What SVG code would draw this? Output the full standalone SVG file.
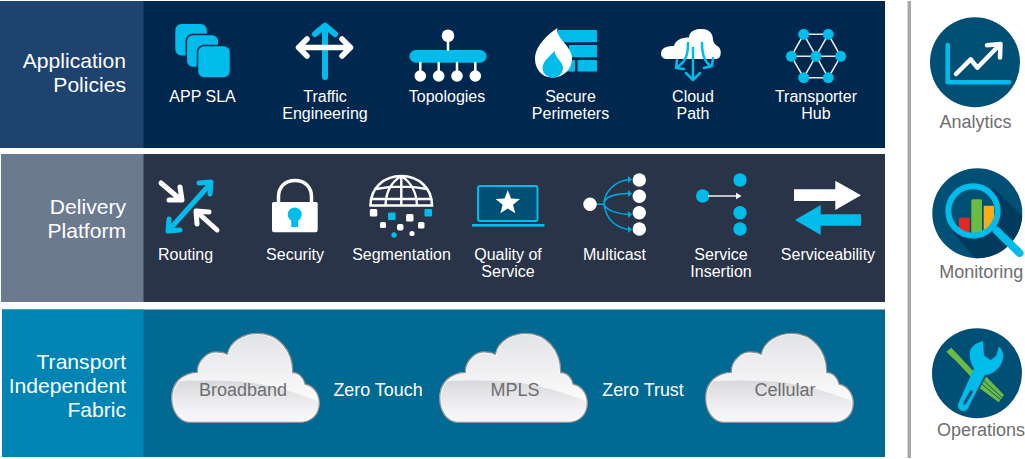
<svg xmlns="http://www.w3.org/2000/svg" width="1025" height="459" viewBox="0 0 1025 459">
<style>
text{font-family:"Liberation Sans",Arial,sans-serif}
.l{font-size:16px;fill:#fff;text-anchor:middle}
.h{font-size:21.1px;fill:#fff;text-anchor:end}
.c{font-size:18px;fill:#6d6e71;text-anchor:middle}
.z{font-size:17.9px;fill:#fff;text-anchor:middle}
.r{font-size:18px;fill:#6d6e71;text-anchor:middle}
.b{fill:#00bceb}.w{fill:#fff}
.sb{stroke:#00bceb;fill:none;stroke-linecap:round;stroke-linejoin:round}
.sw{stroke:#fff;fill:none;stroke-linecap:round;stroke-linejoin:round}
</style>
<defs>
<linearGradient id="ct" gradientUnits="userSpaceOnUse" x1="0" x2="0" y1="333" y2="395"><stop offset="0" stop-color="#e2e3e5"/><stop offset="1" stop-color="#f9f9fa"/></linearGradient>
<linearGradient id="cb" gradientUnits="userSpaceOnUse" x1="0" x2="0" y1="380" y2="416"><stop offset="0" stop-color="#d7d8db"/><stop offset="0.6" stop-color="#ececee"/><stop offset="1" stop-color="#f6f6f8"/></linearGradient>
<clipPath id="cc"><path d="M190 422.300C178 422.300 171.700 410 171.700 398C171.700 382 183 372.800 197.300 372.300C197 360 208 351 218 352C222 352 225 353 227.300 354.300C230 341 244 333.300 258 333.300C278 333.300 293 350 292.700 372.500C299 372.500 304 378 305 384C314 386 319.300 394 319.300 403C319.300 415 311 422.300 300 422.300Z"/></clipPath>
<clipPath id="m1"><circle cx="977.300" cy="213.300" r="45"/></clipPath>
<clipPath id="m2"><circle cx="973" cy="211" r="24"/></clipPath>
<g id="cloud">
<path d="M190 422.300C178 422.300 171.700 410 171.700 398C171.700 382 183 372.800 197.300 372.300C197 360 208 351 218 352C222 352 225 353 227.300 354.300C230 341 244 333.300 258 333.300C278 333.300 293 350 292.700 372.500C299 372.500 304 378 305 384C314 386 319.300 394 319.300 403C319.300 415 311 422.300 300 422.300Z" fill="url(#ct)"/>
<path d="M165 382C190 380 215 380 240 381.500C270 384 295 392 325 404V425H165Z" fill="url(#cb)" clip-path="url(#cc)"/>
<path d="M190 422.300C178 422.300 171.700 410 171.700 398C171.700 382 183 372.800 197.300 372.300C197 360 208 351 218 352C222 352 225 353 227.300 354.300C230 341 244 333.300 258 333.300C278 333.300 293 350 292.700 372.500C299 372.500 304 378 305 384C314 386 319.300 394 319.300 403C319.300 415 311 422.300 300 422.300Z" fill="none" stroke="#fff" stroke-width="3" stroke-opacity="0.8" clip-path="url(#cc)"/>
<path d="M190 422.300C178 422.300 171.700 410 171.700 398C171.700 382 183 372.800 197.300 372.300C197 360 208 351 218 352C222 352 225 353 227.300 354.300C230 341 244 333.300 258 333.300C278 333.300 293 350 292.700 372.500C299 372.500 304 378 305 384C314 386 319.300 394 319.300 403C319.300 415 311 422.300 300 422.300Z" fill="none" stroke="#8e9094" stroke-width="1.300"/>
</g>
</defs>

<g id="band-application">
<rect x="0" y="1" width="885" height="147" fill="#00274d"/>
<rect x="0" y="1" width="143.500" height="147" fill="#1f436f"/>
<text class="h" x="126" y="68">Application</text>
<text class="h" x="126" y="92">Policies</text>
</g>
<g id="band-delivery">
<rect x="1" y="154" width="884" height="148" fill="#293448"/>
<rect x="1" y="154" width="142.500" height="148" fill="#6c7a8f"/>
<text class="h" x="126" y="214">Delivery</text>
<text class="h" x="126" y="238">Platform</text>
</g>
<g id="band-transport">
<rect x="2" y="309.500" width="883" height="147.500" fill="#006a92"/>
<rect x="2" y="309.500" width="141.500" height="147.500" fill="#0084b4"/>
<text class="h" x="126" y="369">Transport</text>
<text class="h" x="126" y="393">Independent</text>
<text class="h" x="126" y="417">Fabric</text>
</g>
<rect id="divider" x="907.500" y="1" width="3.500" height="457" fill="#a7a9ac"/>

<g id="app-sla">
<rect x="175.300" y="24" width="31.500" height="31.500" rx="6" class="b"/>
<rect x="186.300" y="34.500" width="32.500" height="33" rx="6.500" class="b" stroke="#00274d" stroke-width="1.500"/>
<rect x="197.500" y="45.500" width="33" height="32.500" rx="6.500" class="b" stroke="#00274d" stroke-width="1.500"/>
<text class="l" x="202.500" y="101.500">APP SLA</text>
</g>
<g id="traffic-engineering">
<path class="sb" stroke-width="6" d="M325 77V26M315 34L325 25.500L335 34"/>
<path class="sw" stroke-width="5.500" d="M299 47.500H350M307 39L298.500 47.500L307 56M342 39L350.500 47.500L342 56"/>
<text class="l" x="325" y="101.500">Traffic</text>
<text class="l" x="325" y="118.500">Engineering</text>
</g>
<g id="topologies">
<rect x="409.500" y="50" width="77" height="12.700" rx="6.300" class="b"/>
<path class="sw" stroke-width="2.500" d="M448 40V50M420.300 63V72M438.700 63V72M457 63V72M475.300 63V72"/>
<circle cx="448" cy="35.700" r="6.300" class="w"/>
<circle cx="420.300" cy="76" r="5.800" class="w"/><circle cx="438.700" cy="76" r="5.800" class="w"/><circle cx="457" cy="76" r="5.800" class="w"/><circle cx="475.300" cy="76" r="5.800" class="w"/>
<text class="l" x="447" y="101.500">Topologies</text>
</g>
<g id="secure-perimeters">
<path class="b" d="M558 30H597V42.300H558ZM569 45H597V57.300H569ZM577.500 60H597V71.500H577.500ZM562 60H575V71.500H562Z"/>
<path class="w" d="M557.500 28C555 38 572 46 572 58C572 70 563 77.500 552 77.500C541 77.500 535 68 535 59C535 46 548 34 557.500 28Z"/>
<path class="b" d="M555 51C554 57 563 61 563 68C563 73 559 77.500 553 77.500C547 77.500 542.500 73 542.500 68C542.500 61 551 55 555 51Z"/>
<text class="l" x="570.500" y="101.500">Secure</text>
<text class="l" x="570.500" y="118.500">Perimeters</text>
</g>
<g id="cloud-path">
<path class="w" d="M666 59C660 59 659 50 665 47.500C668 46 671 46 674 46C675 40 682 37.500 689 37.500C689 31 696 28.500 702 29C709 29 713 33 713 40C714 44 716 45 718 46.500C722 49 722 59 716 59Z"/>
<path class="sb" stroke-width="2.500" d="M693 48V79M686 73L693 80L700 73M688 43C688 54 686 62 677 67M677 60L676 68L684 69M702 43C702 54 704 62 711 66M713 58L712 66L704 68"/>
<text class="l" x="693" y="101.500">Cloud</text>
<text class="l" x="693" y="118.500">Path</text>
</g>
<g id="transporter-hub">
<path fill="none" stroke="#e6e7e8" stroke-width="1.600" d="M803.700 34.300H828.300L840.700 56.300L828.300 77.700H803.700L791.300 56.300ZM791.300 56.300H840.700M803.700 34.300L828.300 77.700M828.300 34.300L803.700 77.700"/>
<g class="b"><circle cx="803.700" cy="34.300" r="5.500"/><circle cx="828.300" cy="34.300" r="5.500"/><circle cx="791.300" cy="56.300" r="5.500"/><circle cx="816" cy="56.300" r="5.500"/><circle cx="840.700" cy="56.300" r="5.500"/><circle cx="803.700" cy="77.700" r="5.500"/><circle cx="828.300" cy="77.700" r="5.500"/></g>
<text class="l" x="816" y="101.500">Transporter</text>
<text class="l" x="816" y="118.500">Hub</text>
</g>

<g id="routing">
<path class="sb" stroke-width="5" d="M169 230L211 183M169 219L168 231L180 230M199 183L211 182L210 194"/>
<path class="sw" stroke-width="5" d="M161 183L181 200M169 200L182 200L180 187M217 230L197 212M209 212L196 211L197 224"/>
<text class="l" x="185.500" y="260">Routing</text>
</g>
<g id="security">
<path class="w" d="M272 203.500Q272 202 273.500 202H316Q317.700 202 317.700 203.500V230Q317.700 232.300 315.500 232.300H274Q272 232.300 272 230Z"/>
<path fill="none" stroke="#fff" stroke-width="3.500" d="M278.500 203V197C278.500 187 285 180.500 295 180.500C305 180.500 311.500 187 311.500 197V203"/>
<circle cx="294.700" cy="214.500" r="7" class="b"/><rect x="291.200" y="216" width="7" height="11" class="b"/>
<text class="l" x="295" y="260">Security</text>
</g>
<g id="segmentation">
<g fill="none" stroke="#fff" stroke-width="2.400">
<path d="M370.500 205.500C370.500 188 384 176 401.300 176C418.500 176 432 188 432 205.500Z" stroke-width="2.600"/>
<path d="M401.300 176V205M401.300 176C391 182 386 193 385.500 205M401.300 176C411 182 416.500 193 417 205M376 189C392 186 411 186 427 189M372 199H431"/>
</g>
<rect x="369.800" y="209" width="7.500" height="7.500" rx="1.500" class="w"/><rect x="388" y="212.500" width="7.500" height="7.500" rx="1" class="b"/><rect x="406" y="214" width="7.500" height="7.500" rx="1.500" class="w"/><rect x="424.500" y="209" width="7.500" height="7.500" rx="1" class="b"/>
<rect x="380" y="222" width="6" height="6" rx="1.500" class="w"/><rect x="397" y="224" width="6.500" height="6.500" rx="2" class="w"/><rect x="418" y="222" width="6.500" height="6.500" rx="1.500" class="w"/>
<circle cx="394" cy="235" r="2.700" class="b"/><circle cx="412" cy="233.500" r="2.600" class="w"/>
<text class="l" x="401.500" y="260">Segmentation</text>
</g>
<g id="quality-of-service">
<rect x="478" y="186" width="59.500" height="35" rx="2" fill="#004f74" stroke="#00bceb" stroke-width="2"/>
<rect x="472" y="224" width="72.500" height="2.700" class="b"/>
<path class="w" d="M507.800 190L511 198.600L520 199L513 204.700L515.300 213.300L507.800 208.500L500.300 213.300L502.600 204.700L495.600 199L504.600 198.600Z"/>
<text class="l" x="508" y="260">Quality of</text>
<text class="l" x="508" y="277">Service</text>
</g>
<g id="multicast">
<path fill="none" stroke="#00a9dc" stroke-width="1.500" d="M596 204.300H604C604 192 615 181 629 179.500M604 204.300C604 196 615 194 629 193.500M604 204.300C606 210 617 214 629 214.500M604 204.300C606 220 617 228 629 229.500"/>
<g fill="#00a9dc"><path d="M628 176L632 179.500L628 183ZM628 190L632 193.500L628 197ZM628 211L632 214.500L628 218ZM628 226L632 229.500L628 233Z"/></g>
<circle cx="590" cy="204.300" r="6.700" class="w"/>
<circle cx="639.300" cy="180" r="6.700" class="w"/><circle cx="639.300" cy="196.300" r="6.700" class="w"/><circle cx="639.300" cy="212.700" r="6.700" class="w"/><circle cx="639.300" cy="229" r="6.700" class="w"/>
<text class="l" x="614.500" y="260">Multicast</text>
</g>
<g id="service-insertion">
<circle cx="702.700" cy="196" r="6.700" class="b"/>
<circle cx="740" cy="180" r="6.700" class="b"/><circle cx="740" cy="212.700" r="6.700" class="b"/><circle cx="740" cy="229" r="6.700" class="b"/>
<path d="M708 196H737" stroke="#fff" stroke-width="1.400"/><path class="w" d="M736 192.800L741.500 196L736 199.200Z"/>
<text class="l" x="721" y="260">Service</text>
<text class="l" x="721" y="277">Insertion</text>
</g>
<g id="serviceability">
<path class="w" d="M794 189.300H835.300V180.700L861 195.300L835.300 210V201H794Z"/>
<path class="b" d="M861 214.300H820.700V205L795 220L820.700 235V225.700H861Z"/>
<text class="l" x="828" y="260">Serviceability</text>
</g>

<g id="cloud-broadband"><use href="#cloud"/><text class="c" x="243" y="396">Broadband</text></g>
<g id="cloud-mpls"><use href="#cloud" x="268"/><text class="c" x="515" y="396">MPLS</text></g>
<g id="cloud-cellular"><use href="#cloud" x="534"/><text class="c" x="785" y="396">Cellular</text></g>
<text class="z" x="378" y="396">Zero Touch</text>
<text class="z" x="643" y="396">Zero Trust</text>

<g id="analytics">
<circle cx="975" cy="62.300" r="45" fill="#004f74"/>
<path class="sb" stroke-width="4.500" d="M947.700 45V82.300H1009"/>
<path class="sw" stroke-width="4.500" d="M956 74L970.700 59.300L977.300 67.700L999 45.500M987 45.300L1000.500 44L1000 57.500"/>
<text class="r" x="975.500" y="127.500">Analytics</text>
</g>
<g id="monitoring">
<circle cx="977.300" cy="213.300" r="45" fill="#004f74"/>
<path d="M993 187L1030 224V270H985L953 232Z" fill="#003a5c" clip-path="url(#m1)"/>
<circle cx="973" cy="211" r="24" fill="#004f74"/>
<g clip-path="url(#m2)">
<rect x="959" y="217.700" width="10.700" height="20" rx="1" fill="#e5281f"/>
<rect x="971.300" y="199.300" width="10.700" height="40" rx="1.500" fill="#6cbb45"/>
<rect x="983.700" y="205.700" width="10.300" height="30" rx="1" fill="#fbab18"/>
</g>
<circle cx="973" cy="211" r="24.700" fill="none" stroke="#00bceb" stroke-width="6"/>
<path class="sb" stroke-width="8" d="M996.500 230.500L1019.500 253"/>
<text class="r" x="981.300" y="277.500">Monitoring</text>
</g>
<g id="operations">
<circle cx="977" cy="373.300" r="45" fill="#004f74"/>
<path fill="#6cbb45" d="M946.300 351.700L951.300 347.700L961.300 358.300L975 373L971 377L957.300 362.300Z"/>
<path fill="#6cbb45" d="M986.300 376.700L1004 395L998.700 402.300L979.700 388.300Z"/>
<path d="M984 380.800L1002.100 397.600M982 384.200L1000.600 399.700" stroke="#004f74" stroke-width="0.900"/>
<path class="b" d="M983 341C975 343 969.700 348 969.700 353.300C969.500 359 971 364 974 368.300L958 404.300C957.500 408 960 411 963 411C966 411 968 409 968.700 406.700L984.700 375C990 375 995 372 998 368.300C1002 364 1003.500 359 1003 355C1002.800 351 1001 348 998.700 346.700L996.300 355.700L990.700 360L984 355.700Z"/>
<path d="M964.700 403.300L971.300 391.700" stroke="#004f74" stroke-width="3" stroke-linecap="round"/>
<text class="r" x="981" y="436">Operations</text>
</g>
</svg>
